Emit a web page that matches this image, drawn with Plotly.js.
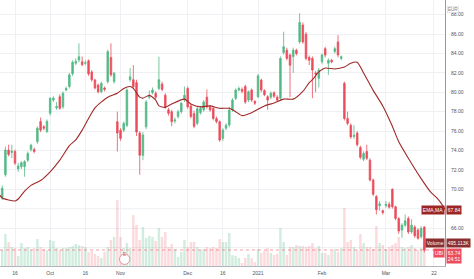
<!DOCTYPE html>
<html><head><meta charset="utf-8">
<script src="https://cdn.plot.ly/plotly-3.0.1.min.js"></script>
<style>html,body{margin:0;padding:0;background:#fff;overflow:hidden}#chart{width:474px;height:279px;}</style>
</head><body><div id="chart"></div>
<script>
// Daily bars, 10 Sep 2020 .. 17 Mar 2021 (bar index = trading day)
const openP = [
69.1,71.5,74.05,73.8,73.9,72.1,72.33,72.33,73.0,74.1,
74.1,74.9,77.0,76.45,75.96,77.83,79.2,78.4,79.55,78.5,
80.24,80.6,81.9,83.0,83.33,83.15,83.0,83.26,82.1,81.27,
80.75,80.06,80.45,81.1,83.6,81.1,76.97,76.1,76.1,76.6,
81.3,81.3,81.0,75.8,73.5,76.45,79.5,79.96,79.9,80.4,
80.85,79.7,78.2,78.0,77.05,77.5,78.0,79.2,80.4,78.6,
77.8,76.8,77.9,78.2,79.5,78.5,78.35,77.3,76.97,75.26,
76.3,76.63,78.17,79.38,80.24,80.3,80.6,79.2,80.24,79.05,
79.55,81.27,80.2,79.55,79.5,79.96,79.5,79.38,84.1,84.35,
83.85,83.67,84.35,85.2,86.94,86.0,83.6,83.5,82.0,81.44,
83.15,84.5,83.0,83.3,84.2,85.2,83.5,80.93,77.3,76.6,
75.45,75.8,74.3,73.1,73.9,73.0,70.96,69.25,68.3,67.8,
68.3,68.45,70.0,68.2,67.0,65.8,66.3,67.0,65.6,66.1,
65.8,65.1,66.1];
const highP = [
70.4,74.4,74.6,74.6,74.1,72.7,72.9,73.0,73.9,74.7,
74.3,76.5,77.4,76.6,77.2,79.5,79.6,79.0,79.8,80.1,
80.6,82.0,83.3,83.5,85.05,83.7,83.3,83.4,82.3,81.4,
80.9,81.1,80.6,84.4,85.05,82.1,78.0,76.3,77.0,80.4,
82.5,82.8,81.3,76.0,75.9,79.2,80.2,80.5,80.1,83.67,
81.1,79.9,78.4,78.2,77.4,78.2,79.0,80.6,80.6,78.8,
78.1,78.5,78.6,79.2,80.3,78.7,78.5,77.5,77.1,76.3,
76.8,78.5,79.4,80.4,80.6,80.5,80.8,80.2,80.4,79.2,
81.9,81.4,80.3,79.7,80.1,80.1,79.7,83.7,86.25,84.6,
84.0,84.6,84.5,88.15,87.2,86.2,83.8,83.7,82.2,82.5,
84.0,84.7,83.5,83.45,84.7,85.9,83.8,81.1,78.0,76.8,
76.6,76.0,74.5,73.9,74.6,73.2,71.1,69.4,68.8,67.9,
68.8,68.7,70.1,68.3,67.1,66.5,67.4,67.2,66.9,66.3,
66.0,66.2,66.2];
const lowP = [
68.9,71.3,73.4,73.2,72.5,71.8,72.1,71.3,72.8,73.9,
73.7,74.7,75.9,76.1,75.8,77.6,79.0,78.2,78.2,78.3,
80.1,80.4,81.7,82.8,83.1,82.7,82.8,81.7,81.1,80.3,
79.9,79.9,80.1,80.9,81.6,80.9,73.9,75.0,75.9,76.4,
81.1,80.4,75.5,71.5,73.0,76.2,79.3,79.8,79.3,80.2,
80.1,78.3,77.6,76.5,76.8,77.3,77.8,79.0,78.3,77.3,
76.3,76.6,77.7,78.0,78.3,78.0,77.1,76.8,74.9,75.0,
76.1,76.4,78.0,79.2,80.1,79.9,78.8,79.0,79.0,78.7,
79.4,80.0,79.6,78.2,79.3,79.4,79.0,79.2,83.9,83.3,
79.5,82.0,83.8,85.0,85.0,83.3,82.8,79.4,80.0,80.5,
82.9,83.6,81.8,83.0,84.0,83.6,83.3,77.1,76.6,75.2,
75.2,74.4,73.1,72.9,73.0,70.8,69.3,67.4,67.8,67.4,
68.1,68.0,68.0,66.8,65.4,65.0,66.1,65.4,65.4,65.0,
64.8,64.9,63.5];
const closeP = [
70.1,74.05,73.6,73.95,72.7,72.4,72.74,72.85,73.7,74.55,
73.9,76.3,76.1,76.3,77.0,79.38,79.4,78.55,78.35,79.9,
80.4,81.8,83.1,83.2,83.67,82.85,83.05,81.9,81.3,80.45,
80.06,80.93,80.3,84.2,81.8,81.96,75.8,75.26,76.8,80.24,
81.6,80.6,75.9,73.5,75.6,79.0,79.7,80.24,79.5,81.3,
80.3,78.5,77.84,76.97,77.15,78.0,78.87,79.7,78.5,77.5,
76.5,78.3,78.35,79.0,78.5,78.17,77.3,76.97,75.08,76.1,
76.6,78.17,79.2,80.24,80.4,80.1,79.0,80.06,79.2,78.87,
81.7,80.24,79.75,79.2,79.9,79.6,79.2,83.5,84.7,83.5,
82.8,84.35,84.0,87.2,85.2,83.5,83.3,82.3,81.9,82.3,
83.85,83.85,83.3,83.15,84.5,83.85,83.67,77.3,76.8,75.4,
75.55,74.6,73.3,73.7,73.2,70.96,69.5,67.9,68.5,67.6,
68.45,68.15,68.2,67.0,65.7,66.3,66.75,65.6,66.3,65.2,
64.95,65.97,63.74];
// volume in thousands
const volumeK = [
344,688,516,409,387,215,495,387,409,344,
387,581,409,366,344,559,538,387,344,387,
387,409,430,473,452,430,409,301,323,258,
215,172,301,409,559,624,1419,624,387,495,
387,1097,882,559,839,602,645,624,538,817,
624,731,409,473,366,194,301,559,409,516,
516,409,344,366,409,387,409,387,581,516,
516,710,237,215,172,65,172,258,172,86,
366,280,323,387,280,237,258,817,516,237,
409,409,452,430,430,409,430,495,387,430,
280,280,237,323,366,301,387,1247,516,559,
409,344,688,495,409,409,366,860,495,452,
366,409,452,495,624,409,387,409,452,387,
344,387,495.113];
// EMA,MA line (bar index, value)
const emaIndex = [-1,0,2,4,5,7,9,12,15,18,21,23,25,26,29,33,36,38,40,41,43,44,46,48,49,51,53,57,59,62,65,68,71,73,75,78,82,85,88,91,94,96,97,99,101,104,107,109,111,113,116,119,122,124,127,131,134,136,138,138.5];
const emaValue = [69.5,69.1,68.9,68.8,69.0,69.8,70.4,70.9,71.8,73.0,74.5,75.1,76.1,76.7,78.4,79.5,79.9,80.4,80.6,80.4,79.5,79.4,79.7,79.2,78.6,78.45,78.8,79.3,78.8,78.5,78.6,78.35,78.35,78.0,77.6,77.9,78.6,78.9,79.3,79.3,80.1,81.0,81.3,82.1,82.5,82.4,82.6,83.0,83.1,82.0,80.2,78.6,76.5,74.9,73.2,71.1,69.7,69.1,68.2,67.9];
const tickIndex = [4,15,26,37,58,69,80,100,120,135];
const tickLabels = ['16','Oct','16','Nov','Dec','16','2021','Feb','Mar','22'];
const gridPrices = [64,66,68,70,72,74,76,78,80,82,84,86,88];
const labelledPrices = [66,70,72,74,76,78,80,82,84,86,88]; // 64 and 68 are hidden behind the value tags
const symbol = 'UBI';
const lastPrice = 63.74;
const lastEma = 67.84;
const lastVolumeK = 495.113;
const countdown = '24:51';
const earningsIndex = 38.3;

const UP = '#53b987', DOWN = '#eb4d5c';
const idx = openP.map((_, i) => i);
const volColors = idx.map(i => closeP[i] >= openP[i] ? 'rgba(83,185,135,0.26)' : 'rgba(235,77,92,0.2)');

const traces = [
  {type:'bar', x:idx, y:volumeK, yaxis:'y2', marker:{color:volColors, line:{width:0}}, width:0.78, hoverinfo:'skip'},
  {type:'candlestick', x:idx, open:openP, high:highP, low:lowP, close:closeP, xaxis:'x', yaxis:'y',
   increasing:{line:{color:UP, width:0.8}, fillcolor:UP},
   decreasing:{line:{color:DOWN, width:0.8}, fillcolor:DOWN},
   whiskerwidth:0, hoverinfo:'skip'},
  {type:'scatter', mode:'lines', x:emaIndex, y:emaValue, line:{color:'#a02828', width:1.1, shape:'spline', smoothing:0.6}, hoverinfo:'skip'}
];

const PW = 445, PH = 266;
const px = v => v / PW, py = v => 1 - v / PH;
const F = 'Liberation Sans, Arial, sans-serif';
const lab = (text, x, xanchor, yref, y, bg, extra) => Object.assign({
  text, x, xref:'paper', xanchor, y, yref, yanchor:'middle', showarrow:false,
  font:{family:F, size:5, color:'#ffffff'}, bgcolor:bg, borderpad:0.8
}, extra || {});

const gridShapes = gridPrices.filter(v => !labelledPrices.includes(v)).map(v => ({
  type:'line', layer:'below', xref:'paper', x0:0, x1:1, yref:'y', y0:v, y1:v, line:{color:'#eef0f4', width:1}
}));

const layout = {
  width:474, height:279, margin:{l:0, r:29, t:0, b:13},
  paper_bgcolor:'#ffffff', plot_bgcolor:'#ffffff', showlegend:false,
  xaxis:{range:[-0.69, 138.46], tickvals:tickIndex, ticktext:tickLabels, showgrid:true, gridcolor:'#eef0f4', gridwidth:1,
    zeroline:false, showline:true, linecolor:'#b2b5be', linewidth:1, ticks:'outside', ticklen:2, tickcolor:'rgba(0,0,0,0)',
    tickfont:{family:F, size:5, color:'#50535e'}, rangeslider:{visible:false}, fixedrange:true},
  yaxis:{side:'right', range:[62.09, 89.52], tickvals:labelledPrices, ticktext:labelledPrices.map(v => v.toFixed(2)),
    showgrid:true, gridcolor:'#eef0f4', zeroline:false, showline:true, linecolor:'#9598a1', linewidth:1,
    ticks:'outside', ticklen:4, tickcolor:'rgba(0,0,0,0)', tickfont:{family:F, size:5, color:'#50535e'}, fixedrange:true},
  yaxis2:{overlaying:'y', range:[0, 5720], visible:false, fixedrange:true},
  shapes:gridShapes.concat([
    {type:'line', xref:'paper', x0:0, x1:1, yref:'y', y0:lastPrice, y1:lastPrice, line:{color:'rgba(235,77,92,0.55)', width:1, dash:'dot'}},
    {type:'circle', xref:'x', xsizemode:'pixel', xanchor:earningsIndex, x0:-5.2, x1:5.2,
     yref:'paper', ysizemode:'pixel', yanchor:py(259.2), y0:-5.2, y1:5.2,
     line:{color:'#ee8d97', width:1}, fillcolor:'#ffffff'}
  ]),
  annotations:[
    {text:'E', x:earningsIndex, xref:'x', y:py(259.2), yref:'paper', showarrow:false, font:{family:F, size:5, color:'#e06470'}},
    {text:'EUR', x:px(459.5), xref:'paper', y:py(5.6), yref:'paper', showarrow:false, font:{family:F, size:4.5, color:'#787b86'},
     bordercolor:'#d1d4dc', borderwidth:0.6, borderpad:0.5, bgcolor:'#ffffff'},
    lab('EMA,MA', 1, 'right', 'y', lastEma, '#9c2626'),
    lab(lastEma.toFixed(2), px(445.6), 'left', 'y', lastEma, '#9c2626'),
    lab('Volume', 1, 'right', 'y2', lastVolumeK, '#8a2f2f'),
    lab(lastVolumeK.toFixed(3) + 'K', px(445.6), 'left', 'y2', lastVolumeK, '#8a2f2f'),
    lab(symbol, 1, 'right', 'paper', py(247.5), DOWN, {yanchor:'top'}),
    lab(lastPrice.toFixed(2) + '<br>' + countdown, px(445.6), 'left', 'paper', py(247.5), DOWN, {yanchor:'top'})
  ]
};

Plotly.newPlot('chart', traces, layout, {staticPlot:true, displayModeBar:false});
</script></body></html>
